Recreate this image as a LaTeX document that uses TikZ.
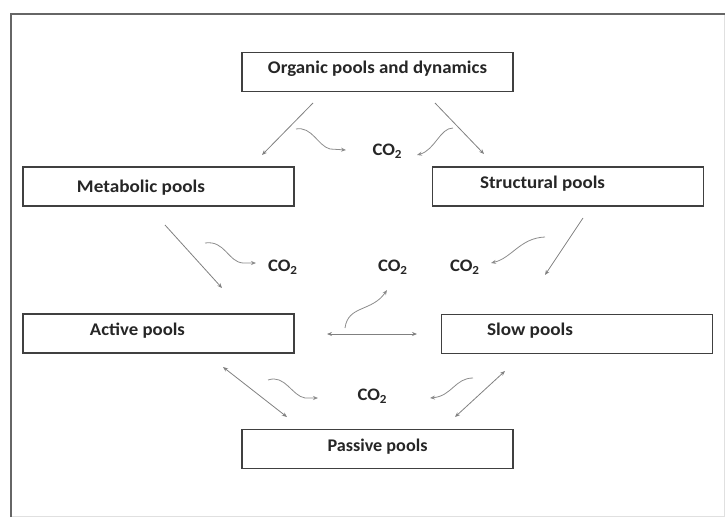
\documentclass[tikz,border=0pt]{standalone}
\usepackage{fontspec}
\usepackage{graphicx}
\setmainfont{Carlito}
\usetikzlibrary{arrows.meta}
\newcommand{\plab}[2]{\resizebox{#1}{12.5pt}{\bfseries #2}}
\newcommand{\cotwo}{\resizebox{30pt}{11.5pt}{\bfseries CO\textsubscript{2}}}
\begin{document}
\begin{tikzpicture}[x=1pt,y=-1pt,
 pool/.style={draw=black!75, line width=1.4pt, minimum width=271pt, minimum height=39pt, inner sep=0pt, fill=white},
 lab/.style={text=black!85, inner sep=0pt},
 co/.style={text=black!85, inner sep=1pt},
 tip/.style={-{Stealth[length=5pt,width=4pt]}},
 flow/.style={draw=black!50, line width=0.8pt, tip},
 bflow/.style={draw=black!50, line width=0.8pt, {Stealth[length=5pt,width=4pt]}-{Stealth[length=5pt,width=4pt]}},
 resp/.style={draw=black!45, line width=0.8pt, tip}]

\useasboundingbox (0,0) rectangle (725,517);
\draw[black!12, line width=1pt] (724,14) -- (724,516) -- (11,516);
\draw[black!60, line width=2pt] (11,517) -- (11,14) -- (725,14);

% pools
\node[pool, label={[lab,yshift=3pt]center:\plab{219pt}{Organic pools and dynamics}}] (org) at (377.5,72) {};
\node[pool, label={[lab,xshift=-17.5pt,yshift=-1pt]center:\plab{128pt}{Metabolic pools}}] (met) at (158.5,186.5) {};
\node[pool, label={[lab,xshift=-25.5pt,yshift=3pt]center:\plab{125pt}{Structural pools}}] (str) at (568,186.5) {};
\node[pool, label={[lab,xshift=-21pt,yshift=3pt]center:\plab{95pt}{Active pools}}] (act) at (158.5,333.5) {};
\node[pool, label={[lab,xshift=-47pt,yshift=3pt]center:\plab{86pt}{Slow pools}}] (slo) at (577,334) {};
\node[pool, label={[lab,yshift=2pt]center:\plab{100pt}{Passive pools}}] (pas) at (377.5,449) {};

% CO2 labels
\node[co] (c1) at (387.5,151) {\cotwo};
\node[co] (c2) at (283,267.5) {\cotwo};
\node[co] (c3) at (393,267) {\cotwo};
\node[co] (c4) at (465,267) {\cotwo};
\node[co] (c5) at (372.5,396) {\cotwo};

% carbon flows
\coordinate (o1) at (313,103); \coordinate (m1) at (262,155);
\coordinate (o2) at (435,103); \coordinate (s1) at (484,154);
\coordinate (m2) at (165,225); \coordinate (a1) at (222,288);
\coordinate (s2) at (583,218); \coordinate (w1) at (545,275);
\coordinate (a2) at (327,334); \coordinate (w2) at (417,334);
\coordinate (a3) at (223,367); \coordinate (p1) at (287,417);
\coordinate (w3) at (505,371); \coordinate (p2) at (455,417);
\draw[flow] (o1) -- (m1);
\draw[flow] (o2) -- (s1);
\draw[flow] (m2) -- (a1);
\draw[flow] (s2) -- (w1);
\draw[bflow] (a2) -- (w2);
\draw[bflow] (a3) -- (p1);
\draw[bflow] (w3) -- (p2);

% respiration
\coordinate (r1) at (296,129); \coordinate (e1) at (346,150);
\draw[resp] (r1) .. controls (312,126) and (318,146) .. (330,149) -- (e1);
\coordinate (r2) at (453,128); \coordinate (e2) at (417,155);
\draw[resp] (r2) .. controls (440,128) and (435,150) .. (e2);
\coordinate (r3) at (205,243); \coordinate (e3) at (256,263);
\draw[resp] (r3) .. controls (225,240) and (228,262) .. (243,263) -- (e3);
\coordinate (r4) at (545,237); \coordinate (e4) at (491,263);
\draw[resp] (r4) .. controls (520,238) and (512,258) .. (e4);
\coordinate (r5) at (345,328); \coordinate (e5) at (387,290);
\draw[resp] (r5) .. controls (348,305) and (372,312) .. (e5);
\coordinate (r6) at (268,380); \coordinate (e6) at (318,398);
\draw[resp] (r6) .. controls (285,374) and (292,396) .. (305,398) -- (e6);
\coordinate (r7) at (473,378); \coordinate (e7) at (430,398);
\draw[resp] (r7) .. controls (455,378) and (452,396) .. (e7);
\end{tikzpicture}
\end{document}
